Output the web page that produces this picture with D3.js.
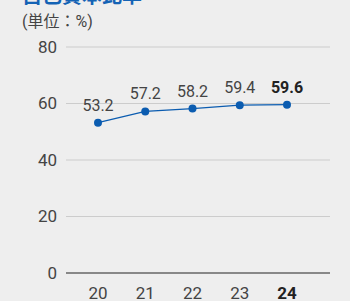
<!DOCTYPE html>
<html>
<head>
<meta charset="utf-8">
<script src="https://cdn.jsdelivr.net/npm/d3@7"></script>
<style>
  html, body { margin: 0; padding: 0; background: #eeeeee; }
  #chart { width: 350px; height: 301px; }
  text { font-family: Roboto, "Noto Sans CJK JP", sans-serif; }
</style>
</head>
<body>
<div id="chart"></div>
<script>
const years = ["20", "21", "22", "23", "24"];
const ratios = [53.2, 57.2, 58.2, 59.4, 59.6];
const yTicks = [0, 20, 40, 60, 80];
const title = "自己資本比率";
const unit = "(単位：%)";

const width = 350, height = 301;

const svg = d3.select("#chart").append("svg")
  .attr("width", width).attr("height", height);

svg.append("text")
  .attr("x", 22).attr("y", 3)
  .attr("fill", "#1463b5")
  .attr("font-size", 20)
  .attr("font-weight", "bold")
  .attr("font-family", "'Noto Sans CJK JP', sans-serif")
  .text(title);

svg.append("text")
  .attr("x", 22).attr("y", 27)
  .attr("fill", "#444")
  .attr("font-size", 16)
  .attr("font-family", "'Noto Sans CJK JP', sans-serif")
  .text(unit);

const x = d3.scalePoint()
  .domain(years)
  .range([98, 287]);

const y = d3.scaleLinear()
  .domain([0, 80])
  .range([273, 47]);

const g = svg.append("g");

g.selectAll("line.grid")
  .data(yTicks.filter(d => d > 0))
  .enter().append("line")
  .attr("class", "grid")
  .attr("x1", 66).attr("x2", 330)
  .attr("y1", d => y(d)).attr("y2", d => y(d))
  .attr("stroke", "#cccccc")
  .attr("stroke-width", 1);

g.append("line")
  .attr("x1", 66).attr("x2", 330)
  .attr("y1", y(0)).attr("y2", y(0))
  .attr("stroke", "#222")
  .attr("stroke-width", 1);

g.selectAll("text.ytick")
  .data(yTicks)
  .enter().append("text")
  .attr("class", "ytick")
  .attr("x", 57)
  .attr("y", d => y(d))
  .attr("dy", "0.35em")
  .attr("text-anchor", "end")
  .attr("fill", "#444")
  .attr("font-size", 17)
  .text(d => d);

g.selectAll("text.xtick")
  .data(years)
  .enter().append("text")
  .attr("class", "xtick")
  .attr("x", d => x(d))
  .attr("y", 299)
  .attr("text-anchor", "middle")
  .attr("fill", (d, i) => i === years.length - 1 ? "#222" : "#444")
  .attr("font-weight", (d, i) => i === years.length - 1 ? "bold" : "normal")
  .attr("font-size", 17)
  .text(d => d);

const pts = years.map((yr, i) => ({ yr, v: ratios[i], last: i === years.length - 1 }));

g.append("path")
  .datum(pts)
  .attr("d", d3.line().x(d => x(d.yr)).y(d => y(d.v)))
  .attr("fill", "none")
  .attr("stroke", "#0b5cb0")
  .attr("stroke-width", 1.3);

g.selectAll("circle")
  .data(pts)
  .enter().append("circle")
  .attr("cx", d => x(d.yr))
  .attr("cy", d => y(d.v))
  .attr("r", 4)
  .attr("fill", "#0b5cb0");

g.selectAll("text.val")
  .data(pts)
  .enter().append("text")
  .attr("class", "val")
  .attr("x", d => x(d.yr))
  .attr("y", d => y(d.v) - 12)
  .attr("text-anchor", "middle")
  .attr("fill", d => d.last ? "#222" : "#444")
  .attr("font-weight", d => d.last ? "bold" : "normal")
  .attr("font-size", 16)
  .text(d => d.v.toFixed(1));
</script>
</body>
</html>
